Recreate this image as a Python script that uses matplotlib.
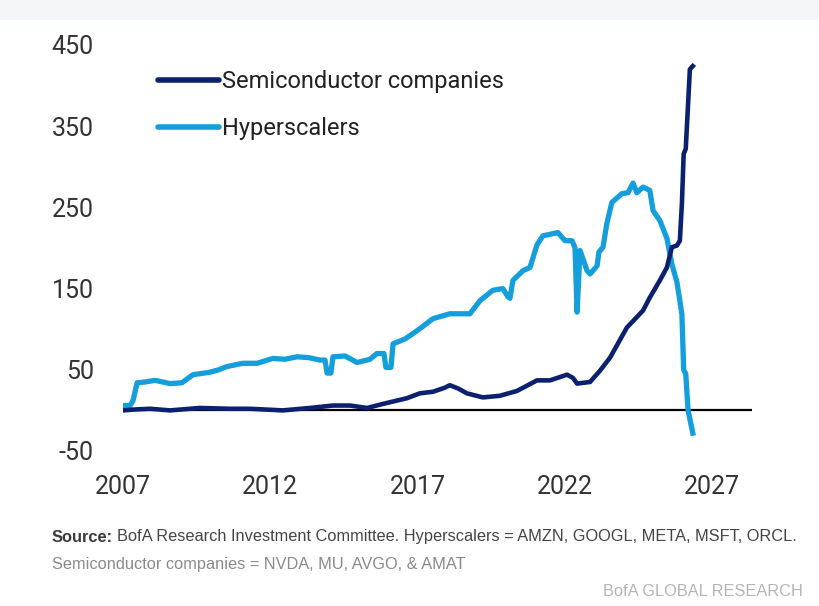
import matplotlib.pyplot as plt
from matplotlib.patches import Rectangle

# Values (decimal years, index level)
hyper_years = [2007.00, 2007.24, 2007.34, 2007.48, 2007.75, 2008.09, 2008.35, 2008.60, 2009.00,
               2009.38, 2009.95, 2010.25, 2010.53, 2011.07, 2011.55, 2012.09, 2012.50, 2012.91,
               2013.30, 2013.69, 2013.86, 2013.93, 2014.06, 2014.13, 2014.54, 2014.95, 2015.39,
               2015.62, 2015.86, 2015.93, 2016.10, 2016.17, 2016.58, 2016.98, 2017.53, 2018.10,
               2018.78, 2019.12, 2019.56, 2019.90, 2020.07, 2020.14, 2020.24, 2020.58, 2020.82,
               2021.06, 2021.26, 2021.77, 2022.01, 2022.25, 2022.35, 2022.42, 2022.52, 2022.76,
               2022.86, 2023.10, 2023.16, 2023.30, 2023.43, 2023.60, 2023.94, 2024.15, 2024.32,
               2024.45, 2024.66, 2024.89, 2025.00, 2025.23, 2025.47, 2025.64, 2025.81, 2025.91,
               2025.98, 2026.04, 2026.11, 2026.19, 2026.35]
hyper_vals = [6, 6, 12, 34, 35, 37, 35, 33, 34,
              44, 47, 50, 54, 58, 58, 64, 63, 66,
              65, 62, 62, 46, 46, 66, 67, 59, 63,
              70, 70, 53, 53, 82, 88, 98, 113, 119,
              119, 135, 148, 150, 140, 138, 160, 172, 176,
              204, 215, 219, 209, 209, 200, 121, 197, 172,
              168, 178, 195, 201, 230, 256, 267, 268, 280,
              268, 275, 271, 246, 234, 212, 180, 158, 135,
              118, 50, 45, 0, -28]

semi_years = [2007.00, 2007.34, 2007.92, 2008.60, 2009.61, 2010.63, 2011.31, 2012.43, 2013.35,
              2014.13, 2014.71, 2015.29, 2015.83, 2016.64, 2017.08, 2017.53, 2017.93, 2018.10,
              2018.38, 2018.68, 2019.22, 2019.80, 2020.38, 2021.06, 2021.50, 2022.08, 2022.28,
              2022.42, 2022.86, 2023.20, 2023.54, 2024.11, 2024.66, 2024.89, 2025.23, 2025.47,
              2025.64, 2025.81, 2025.91, 2025.98, 2026.04, 2026.11, 2026.25, 2026.35]
semi_vals = [0, 1, 2, 0, 3, 2, 2, 0, 3,
             6, 6, 3, 8, 15, 21, 23, 28, 31,
             27, 21, 16, 18, 24, 37, 37, 44, 40,
             33, 35, 49, 65, 102, 123, 139, 160, 176,
             201, 203, 209, 255, 316, 322, 420, 424]

y_ticks = [-50, 50, 150, 250, 350, 450]
x_ticks = [2007, 2012, 2017, 2022, 2027]

DARK = '#0b2170'
LIGHT = '#149fdc'
TXT = '#333333'

plt.rcParams['font.family'] = ['Roboto', 'DejaVu Sans']
plt.rcParams['axes.unicode_minus'] = False

fig = plt.figure(figsize=(8.19, 6.06), dpi=100)
ax = fig.add_axes([123 / 819, 1 - 451 / 606, (752 - 123) / 819, (451 - 45) / 606])

ax.axhline(0, color='black', lw=1.6, zorder=1)
ax.plot(hyper_years, hyper_vals, color=LIGHT, lw=3.8, label='Hyperscalers',
        solid_joinstyle='round', zorder=2)
ax.plot(semi_years, semi_vals, color=DARK, lw=3.3, label='Semiconductor companies',
        solid_joinstyle='round', zorder=3)

ax.set_xlim(2007, 2028.36)
ax.set_ylim(-50, 450)
ax.set_xticks(x_ticks)
ax.set_yticks(y_ticks)
ax.tick_params(length=0, labelsize=18, colors=TXT)
ax.tick_params(axis='y', pad=21)
ax.tick_params(axis='x', pad=17)
for s in ax.spines.values():
    s.set_visible(False)

# legend: semiconductor first
h, l = ax.get_legend_handles_labels()
leg = ax.legend(h[::-1], l[::-1], loc='upper left', bbox_to_anchor=(0.022, 0.99),
                frameon=False, fontsize=17, handlelength=2.6, handletextpad=0.12,
                labelspacing=1.0)
for t in leg.get_texts():
    t.set_color('#222222')
for line in leg.get_lines():
    line.set_linewidth(4)
    line.set_solid_capstyle('round')

# faint band at the top of the screenshot
fig.patches.append(Rectangle((0, 1 - 20 / 606), 1, 20 / 606, transform=fig.transFigure,
                             facecolor='#f3f5f8', edgecolor='none', zorder=0))

foot = ['Liberation Sans', 'DejaVu Sans']
fs = 11.8
src = fig.text(52 / 819, 1 - 537 / 606, 'Source:', fontsize=fs, fontweight='bold',
               color='#3a3a3a', family=foot, va='center')
fig.canvas.draw()
bb = src.get_window_extent()
x_rest = (bb.x1 + 4) / fig.bbox.width
fig.text(x_rest, 1 - 537 / 606,
         'BofA Research Investment Committee. Hyperscalers = AMZN, GOOGL, META, MSFT, ORCL.',
         fontsize=fs, color='#444444', family=foot, va='center')
fig.text(52 / 819, 1 - 564 / 606, 'Semiconductor companies = NVDA, MU, AVGO, & AMAT',
         fontsize=fs, color='#8a8a8a', family=foot, va='center')
fig.text(803 / 819, 1 - 592 / 606, 'BofA GLOBAL RESEARCH', fontsize=fs, color='#b5b5b5',
         family=foot, va='center', ha='right')

fig.savefig('out.png', dpi=100)
